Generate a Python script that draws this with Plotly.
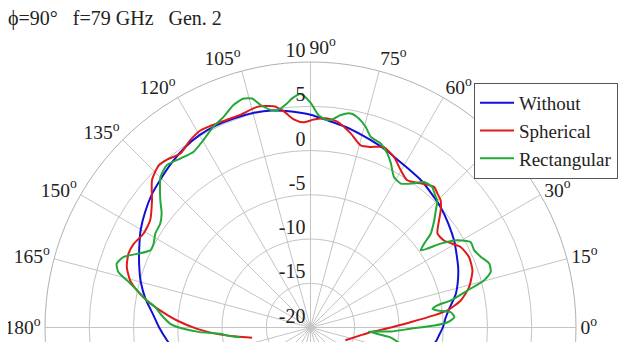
import plotly.graph_objects as go

title_text = "ϕ=90°\u00a0\u00a0\u00a0f=79 GHz\u00a0\u00a0\u00a0Gen. 2"
series_names = ["Without", "Spherical", "Rectangular"]
series_colors = ["#1010d8", "#e01a1a", "#22a836"]

angle_ticks = list(range(0, 360, 15))
angle_labels = [("\u00a0" * 5 if a == 90 else "") + f"{a}<sup>o</sup>" for a in angle_ticks]
radial_ticks = [-20, -15, -10, -5, 0, 5, 10]
radial_labels = ["-20", "-15", "-10", "-5", "0", "5", "10"]
radial_label_angle = 90

without_theta = [-9, -6, -3, 0, 4, 7, 10, 13, 17, 22, 27, 31, 37, 43, 48, 53, 58, 62, 66, 70, 75, 80, 85,
                 90, 95, 100, 105, 110, 115, 120, 125, 130, 135, 140, 145, 150, 155, 160, 165, 170, 175,
                 180, 185, 189]
without_db = [-6.1, -5.7, -5.4, -5.05, -4.7, -4.3, -3.75, -3.15, -2.6, -2.0, -1.5, -1.05, -0.5, 0.05, 0.4,
              0.8, 1.05, 1.3, 1.7, 2.05, 2.5, 3.0, 3.45, 4.05, 4.5, 4.9, 5.1, 5.15, 5.2, 5.1, 4.8, 4.35,
              3.85, 3.4, 2.8, 2.15, 1.35, 0.6, -0.15, -1.05, -2.1, -2.9, -3.7, -4.3]

spherical_theta = [-20, -9, -4.5, 0, 3, 5.6, 7.1, 10.2, 14.3, 19.4, 23.9, 28.2, 33.1, 36.5, 39.8, 42, 44.3,
                   46.5, 48.7, 52.6, 56.7, 60.2, 63.9, 67.9, 71.6, 74.6, 78.3, 82.6, 85.4, 89.1, 92, 94.6,
                   97, 99.4, 103.6, 108.3, 111.9, 115.5, 119.2, 122.7, 126.8, 130.5, 133.1, 137.1, 141.3,
                   146.2, 150.7, 154.7, 157.9, 161.8, 165.4, 167.9, 170.6, 173.5, 177, 180.7, 183.9, 187,
                   190]
spherical_db = [-15.8, -14.3, -13.2, -10.9, -8.7, -6.0, -4.4, -2.75, -1.5, -0.6, -0.4, -0.75, -2.0, -2.15,
                -1.1, -0.2, 0.55, 0.85, 1.15, 0.5, -0.1, 0.5, 1.45, 2.0, 1.5, 1.35, 2.4, 3.45, 3.7, 3.5,
                3.2, 3.6, 4.6, 5.35, 5.65, 5.3, 5.3, 5.4, 5.5, 5.15, 4.55, 4.95, 5.1, 4.45, 2.95, 1.8,
                1.65, 2.1, 2.2, 1.85, 1.05, 0.05, -1.25, -2.9, -4.9, -7.2, -9.4, -11.6, -13.3]

rectangular_theta = [-10, -7, -3.9, -2.9, -0.7, 0.9, 2.2, 4.1, 6.2, 7.6, 8.7, 9.9, 10.9, 13.3, 15.2, 17.1,
                     19.7, 22.5, 25.2, 28.1, 30.7, 32.8, 34, 35, 36.4, 38, 40.9, 43.1, 45.1, 46.5, 49.1,
                     52, 55.2, 57.9, 61, 63.9, 66.2, 69.1, 72.5, 74.6, 77, 79.4, 81.9, 83.6, 85.4, 87.8,
                     90, 92.4, 94.5, 96, 98.8, 100.4, 102.7, 104.3, 106.3, 109.1, 112.4, 115.8, 119.7,
                     123.6, 127.6, 131.5, 134.9, 139.7, 142.5, 145.3, 148.8, 151.9, 154.3, 157, 159.4,
                     161.8, 163.9, 165.6, 167.9, 170.6, 172.5, 175.4, 178.5, 180.6, 182.4, 184, 185.5, 188]
rectangular_db = [-9.8, -10.9, -13.4, -10.9, -8.7, -6.0, -4.5, -3.7, -4.05, -5.5, -6.05, -5.45, -3.85,
                  -1.75, 0.35, 1.3, 1.45, 0.85, 0.45, 0.5, -0.7, -2.5, -4.05, -4.8, -4.05, -2.75, -1.5,
                  -0.6, 0.3, 0.5, 1.0, 0.85, -0.2, -0.8, -0.55, 0.65, 1.5, 2.25, 2.6, 3.5, 4.25, 4.6, 4.25,
                  3.75, 3.5, 4.0, 5.4, 6.4, 6.0, 5.45, 4.8, 5.0, 5.8, 6.7, 6.95, 6.6, 5.75, 5.2, 4.4, 3.85,
                  4.1, 4.5, 4.0, 2.25, 1.2, 0.65, 0.5, 0.1, 0.1, 1.3, 2.6, 3.05, 2.6, 1.4, 0.05, -1.25,
                  -2.3, -3.15, -4.15, -5.65, -7.5, -9.8, -10.5, -12.0]

W, H = 628, 654
serif = "Liberation Serif, Times New Roman, serif"

fig = go.Figure()
for name, color, th, r in zip(series_names, series_colors,
                              [without_theta, spherical_theta, rectangular_theta],
                              [without_db, spherical_db, rectangular_db]):
    fig.add_trace(go.Scatterpolar(theta=th, r=r, mode="lines", name=name,
                                  line=dict(color=color, width=2, shape="spline", smoothing=0.6)))

# radial tick labels, placed above-left of each ring on the 90° spoke
fig.add_trace(go.Scatterpolar(theta=[radial_label_angle] * len(radial_ticks), r=radial_ticks,
                              mode="text", text=[t + "\u00a0" for t in radial_labels],
                              textposition="top left",
                              textfont=dict(family=serif, size=20, color="#222"),
                              cliponaxis=False, showlegend=False, hoverinfo="skip"))

fig.update_layout(
    width=W, height=H,
    margin=dict(l=0, r=0, t=0, b=0),
    paper_bgcolor="white",
    font=dict(family=serif, size=20, color="#222"),
    title=dict(text=title_text, x=0, xanchor="left", xref="paper",
               y=1 - 10 / H, yanchor="middle", yref="paper",
               font=dict(family=serif, size=20, color="#222")),
    polar=dict(
        domain=dict(x=[37 / W, 568 / W], y=[(H - 585) / H, (H - 54) / H]),
        bgcolor="white",
        angularaxis=dict(rotation=0, direction="counterclockwise",
                         tickmode="array", tickvals=angle_ticks, ticktext=angle_labels,
                         showgrid=True, gridcolor="#c4c4c4", gridwidth=1,
                         showline=True, linecolor="#b0b0b0", linewidth=1,
                         ticks="", tickfont=dict(family=serif, size=19.5, color="#222")),
        radialaxis=dict(range=[-20, 10], angle=90,
                        tickmode="array", tickvals=radial_ticks, showticklabels=False,
                        showgrid=True, gridcolor="#c4c4c4", gridwidth=1,
                        showline=False, ticks=""),
    ),
    legend=dict(x=466 / W, xanchor="left", y=1 - 75 / H, yanchor="top",
                bgcolor="white", bordercolor="#555", borderwidth=1, itemwidth=34,
                font=dict(family=serif, size=19, color="#222")),
    showlegend=True,
)

fig.write_html("out.html")
